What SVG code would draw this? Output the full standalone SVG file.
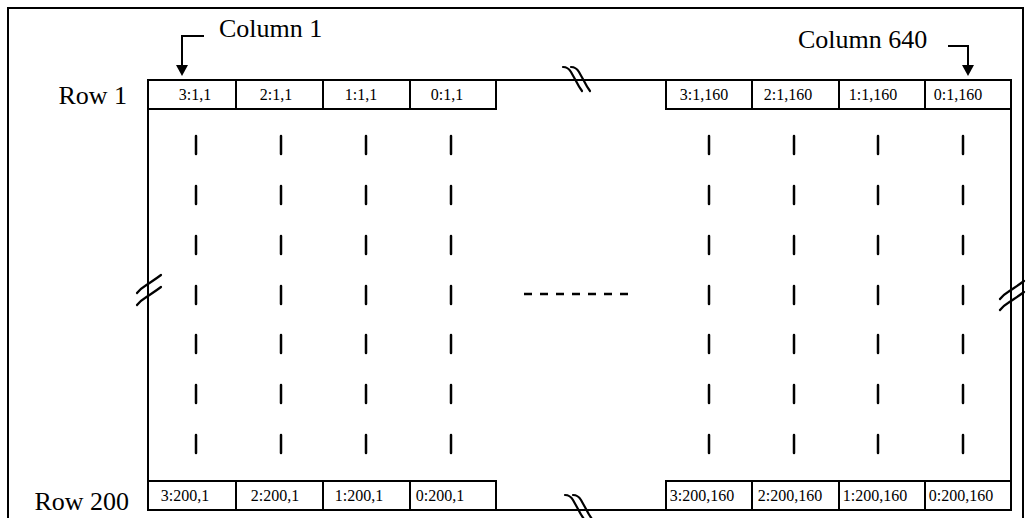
<svg xmlns="http://www.w3.org/2000/svg" width="1026" height="518" viewBox="0 0 1026 518">
<style>
.ln{fill:none;stroke:#000;stroke-width:2}
.cell{fill:#fff;stroke:#000;stroke-width:2}
.dash{stroke:#000;stroke-width:2.5;stroke-linecap:round}
.brk{fill:none;stroke:#000;stroke-width:2.2;stroke-linecap:round}
.lbl{font-family:"Liberation Serif","Times New Roman",serif;font-size:26px;fill:#000}
.ct{font-family:"Liberation Serif","Times New Roman",serif;font-size:16px;fill:#000;text-anchor:middle}
.ah{fill:#000}
</style>
<rect width="1026" height="518" fill="#fff"/>
<path class="ln" d="M8,520 V8 H1023 V520"/>
<g id="frame">
<path class="ln" d="M148,80 H666 M148,80 V510 M148,510 H666 M1011,80 V510"/>
</g>
<g id="row1-left">
<rect class="cell" x="148" y="80" width="88" height="29"/>
<rect class="cell" x="236" y="80" width="87" height="29"/>
<rect class="cell" x="323" y="80" width="87" height="29"/>
<rect class="cell" x="410" y="80" width="86" height="29"/>
<text class="ct" x="195" y="100">3:1,1</text>
<text class="ct" x="276" y="100">2:1,1</text>
<text class="ct" x="361" y="100">1:1,1</text>
<text class="ct" x="447" y="100">0:1,1</text>
</g>
<g id="row1-right">
<rect class="cell" x="666" y="80" width="86" height="29"/>
<rect class="cell" x="752" y="80" width="87" height="29"/>
<rect class="cell" x="839" y="80" width="86" height="29"/>
<rect class="cell" x="925" y="80" width="86" height="29"/>
<text class="ct" x="704" y="100">3:1,160</text>
<text class="ct" x="788" y="100">2:1,160</text>
<text class="ct" x="873" y="100">1:1,160</text>
<text class="ct" x="958" y="100">0:1,160</text>
</g>
<g id="row200-left">
<rect class="cell" x="148" y="481" width="88" height="29"/>
<rect class="cell" x="236" y="481" width="87" height="29"/>
<rect class="cell" x="323" y="481" width="87" height="29"/>
<rect class="cell" x="410" y="481" width="86" height="29"/>
<text class="ct" x="185" y="501">3:200,1</text>
<text class="ct" x="275" y="501">2:200,1</text>
<text class="ct" x="359" y="501">1:200,1</text>
<text class="ct" x="440" y="501">0:200,1</text>
</g>
<g id="row200-right">
<rect class="cell" x="666" y="481" width="86" height="29"/>
<rect class="cell" x="752" y="481" width="87" height="29"/>
<rect class="cell" x="839" y="481" width="86" height="29"/>
<rect class="cell" x="925" y="481" width="86" height="29"/>
<text class="ct" x="702" y="501">3:200,160</text>
<text class="ct" x="790" y="501">2:200,160</text>
<text class="ct" x="875" y="501">1:200,160</text>
<text class="ct" x="961" y="501">0:200,160</text>
</g>
<g id="labels">
<text class="lbl" x="219" y="37">Column 1</text>
<text class="lbl" x="798" y="48">Column 640</text>
<text class="lbl" x="127" y="104" text-anchor="end">Row 1</text>
<text class="lbl" x="129" y="510" text-anchor="end">Row 200</text>
</g>
<g id="connectors">
<path class="ln" d="M204,36 H182 V66"/>
<polygon class="ah" points="176,65 188,65 182,76"/>
<path class="ln" d="M948,46 H968 V66"/>
<polygon class="ah" points="962,65 974,65 968,76"/>
</g>
<g id="dashes">
<path class="dash" d="M196,136v18M196,186v18M196,236v18M196,286v18M196,335v18M196,385v18M196,435v18"/>
<path class="dash" d="M281,136v18M281,186v18M281,236v18M281,286v18M281,335v18M281,385v18M281,435v18"/>
<path class="dash" d="M366,136v18M366,186v18M366,236v18M366,286v18M366,335v18M366,385v18M366,435v18"/>
<path class="dash" d="M451,136v18M451,186v18M451,236v18M451,286v18M451,335v18M451,385v18M451,435v18"/>
<path class="dash" d="M709,136v18M709,186v18M709,236v18M709,286v18M709,335v18M709,385v18M709,435v18"/>
<path class="dash" d="M794,136v18M794,186v18M794,236v18M794,286v18M794,335v18M794,385v18M794,435v18"/>
<path class="dash" d="M878,136v18M878,186v18M878,236v18M878,286v18M878,335v18M878,385v18M878,435v18"/>
<path class="dash" d="M963,136v18M963,186v18M963,236v18M963,286v18M963,335v18M963,385v18M963,435v18"/>
<path d="M524,294 H628" stroke="#000" stroke-width="2.5" stroke-dasharray="8 8"/>
</g>
<g id="breaks">
<path class="brk" d="M563,67 q5,0 8,5 l5,9 q3,6 6,10"/>
<path class="brk" d="M571,67 q5,0 8,5 l5,9 q3,6 6,10"/>
<path class="brk" d="M565,495 q5,0 8,5 l5,9 q3,6 6,10"/>
<path class="brk" d="M573,495 q5,0 8,5 l5,9 q3,6 6,10"/>
<path class="brk" d="M137,293 q3,-4 8,-7 l6,-4 q6,-4 10,-7"/>
<path class="brk" d="M137,305 q3,-4 8,-7 l6,-4 q6,-4 10,-7"/>
<path class="brk" d="M1000,299 q3,-4 8,-7 l6,-4 q6,-4 10,-7"/>
<path class="brk" d="M1000,310 q3,-4 8,-7 l6,-4 q6,-4 10,-7"/>
</g>
</svg>
